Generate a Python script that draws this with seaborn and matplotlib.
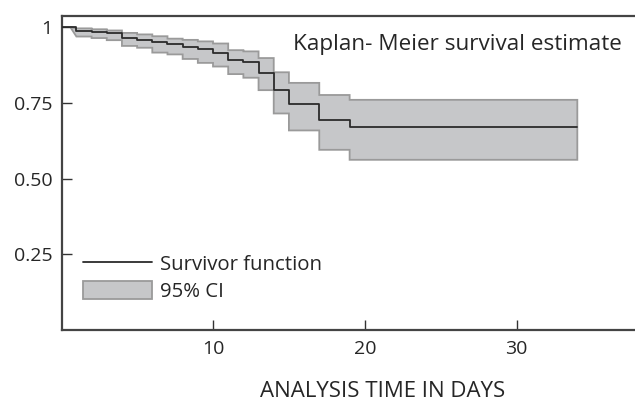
import matplotlib
matplotlib.use("Agg")
import matplotlib.pyplot as plt
import seaborn as sns
import numpy as np
import pandas as pd
from matplotlib.lines import Line2D
from matplotlib.patches import Patch

# Kaplan-Meier estimate
times = [0, 1, 2, 3, 4, 5, 6, 7, 8, 9, 10, 11, 12, 13, 14, 15, 17, 19, 34]
survival = [1.0, 0.987, 0.984, 0.980, 0.965, 0.959, 0.951, 0.946, 0.935, 0.928,
            0.916, 0.891, 0.884, 0.850, 0.793, 0.745, 0.694, 0.671, 0.671]

# 95% confidence band (starts at first event)
ci_start = 0.6
ci_times = [1, 2, 3, 4, 5, 6, 7, 8, 9, 10, 11, 12, 13, 14, 15, 17, 19, 34]
ci_upper = [0.996, 0.993, 0.989, 0.981, 0.976, 0.970, 0.962, 0.958, 0.953, 0.946,
            0.924, 0.920, 0.898, 0.851, 0.816, 0.776, 0.760, 0.760]
ci_lower = [0.969, 0.964, 0.957, 0.938, 0.932, 0.916, 0.910, 0.895, 0.882, 0.870,
            0.845, 0.833, 0.792, 0.715, 0.659, 0.595, 0.562, 0.562]

x_ticks = [10, 20, 30]
y_ticks = [0.25, 0.50, 0.75, 1.0]
y_labels = ["0.25", "0.50", "0.75", "1"]

sns.set_style("ticks")
plt.rcParams["font.family"] = ["Open Sans", "DejaVu Sans"]
plt.rcParams["font.size"] = 14

fig = plt.figure(figsize=(6.35, 4.01), dpi=100)
ax = fig.add_axes([0.0976, 0.177, 0.9024, 0.784])


def step_vertices(t, v):
    # turn step-post data into polygon vertices
    x = np.repeat(np.asarray(t, float), 2)[1:]
    y = np.repeat(np.asarray(v, float), 2)[:-1]
    return x, y


xu, yu = step_vertices(ci_times, ci_upper)
xl, yl = step_vertices(ci_times, ci_lower)
xu = np.r_[ci_start, xu]
yu = np.r_[1.0, yu]
xl = np.r_[ci_start, xl]
yl = np.r_[1.0, yl]

band_face = "#c6c7c9"
band_edge = "#9a9a9a"
ax.fill(np.r_[xu, xl[::-1]], np.r_[yu, yl[::-1]],
        facecolor=band_face, edgecolor=band_edge, linewidth=1.3, zorder=1)

df = pd.DataFrame({"time": times, "survival": survival})
sns.lineplot(data=df, x="time", y="survival", drawstyle="steps-post",
             color="#2b2b2b", linewidth=1.3, ax=ax, zorder=3)

ax.set_xlim(0.05, 37.8)
ax.set_ylim(0, 1.038)
ax.set_xticks(x_ticks)
ax.set_yticks(y_ticks)
ax.set_yticklabels(y_labels)
ax.tick_params(direction="in", length=7.5, width=1.0, color="#333333",
               labelsize=14, pad=7)
ax.tick_params(axis="y", pad=7)

for side in ["left", "bottom", "top"]:
    ax.spines[side].set_color("#444444")
    ax.spines[side].set_linewidth(1.6)
ax.spines["right"].set_visible(False)

ax.set_ylabel("")
ax.set_xlabel("ANALYSIS TIME IN DAYS", fontsize=16)
ax.xaxis.label.set_verticalalignment("center")
ax.xaxis.set_label_coords(0.56, -0.195)

ax.text(0.977, 0.909, "Kaplan- Meier survival estimate", transform=ax.transAxes,
        ha="right", va="center", fontsize=16.2)

handles = [
    Line2D([0], [0], color="#2b2b2b", linewidth=1.3),
    Patch(facecolor=band_face, edgecolor=band_edge, linewidth=1.3),
]
ax.legend(handles, ["Survivor function", "95% CI"], loc="center left",
          bbox_to_anchor=(0.036, 0.165), frameon=False, fontsize=14.7,
          handlelength=3.4, handleheight=1.0, handletextpad=0.4,
          labelspacing=0.3, borderpad=0, borderaxespad=0)

fig.savefig("out.png", dpi=100)
